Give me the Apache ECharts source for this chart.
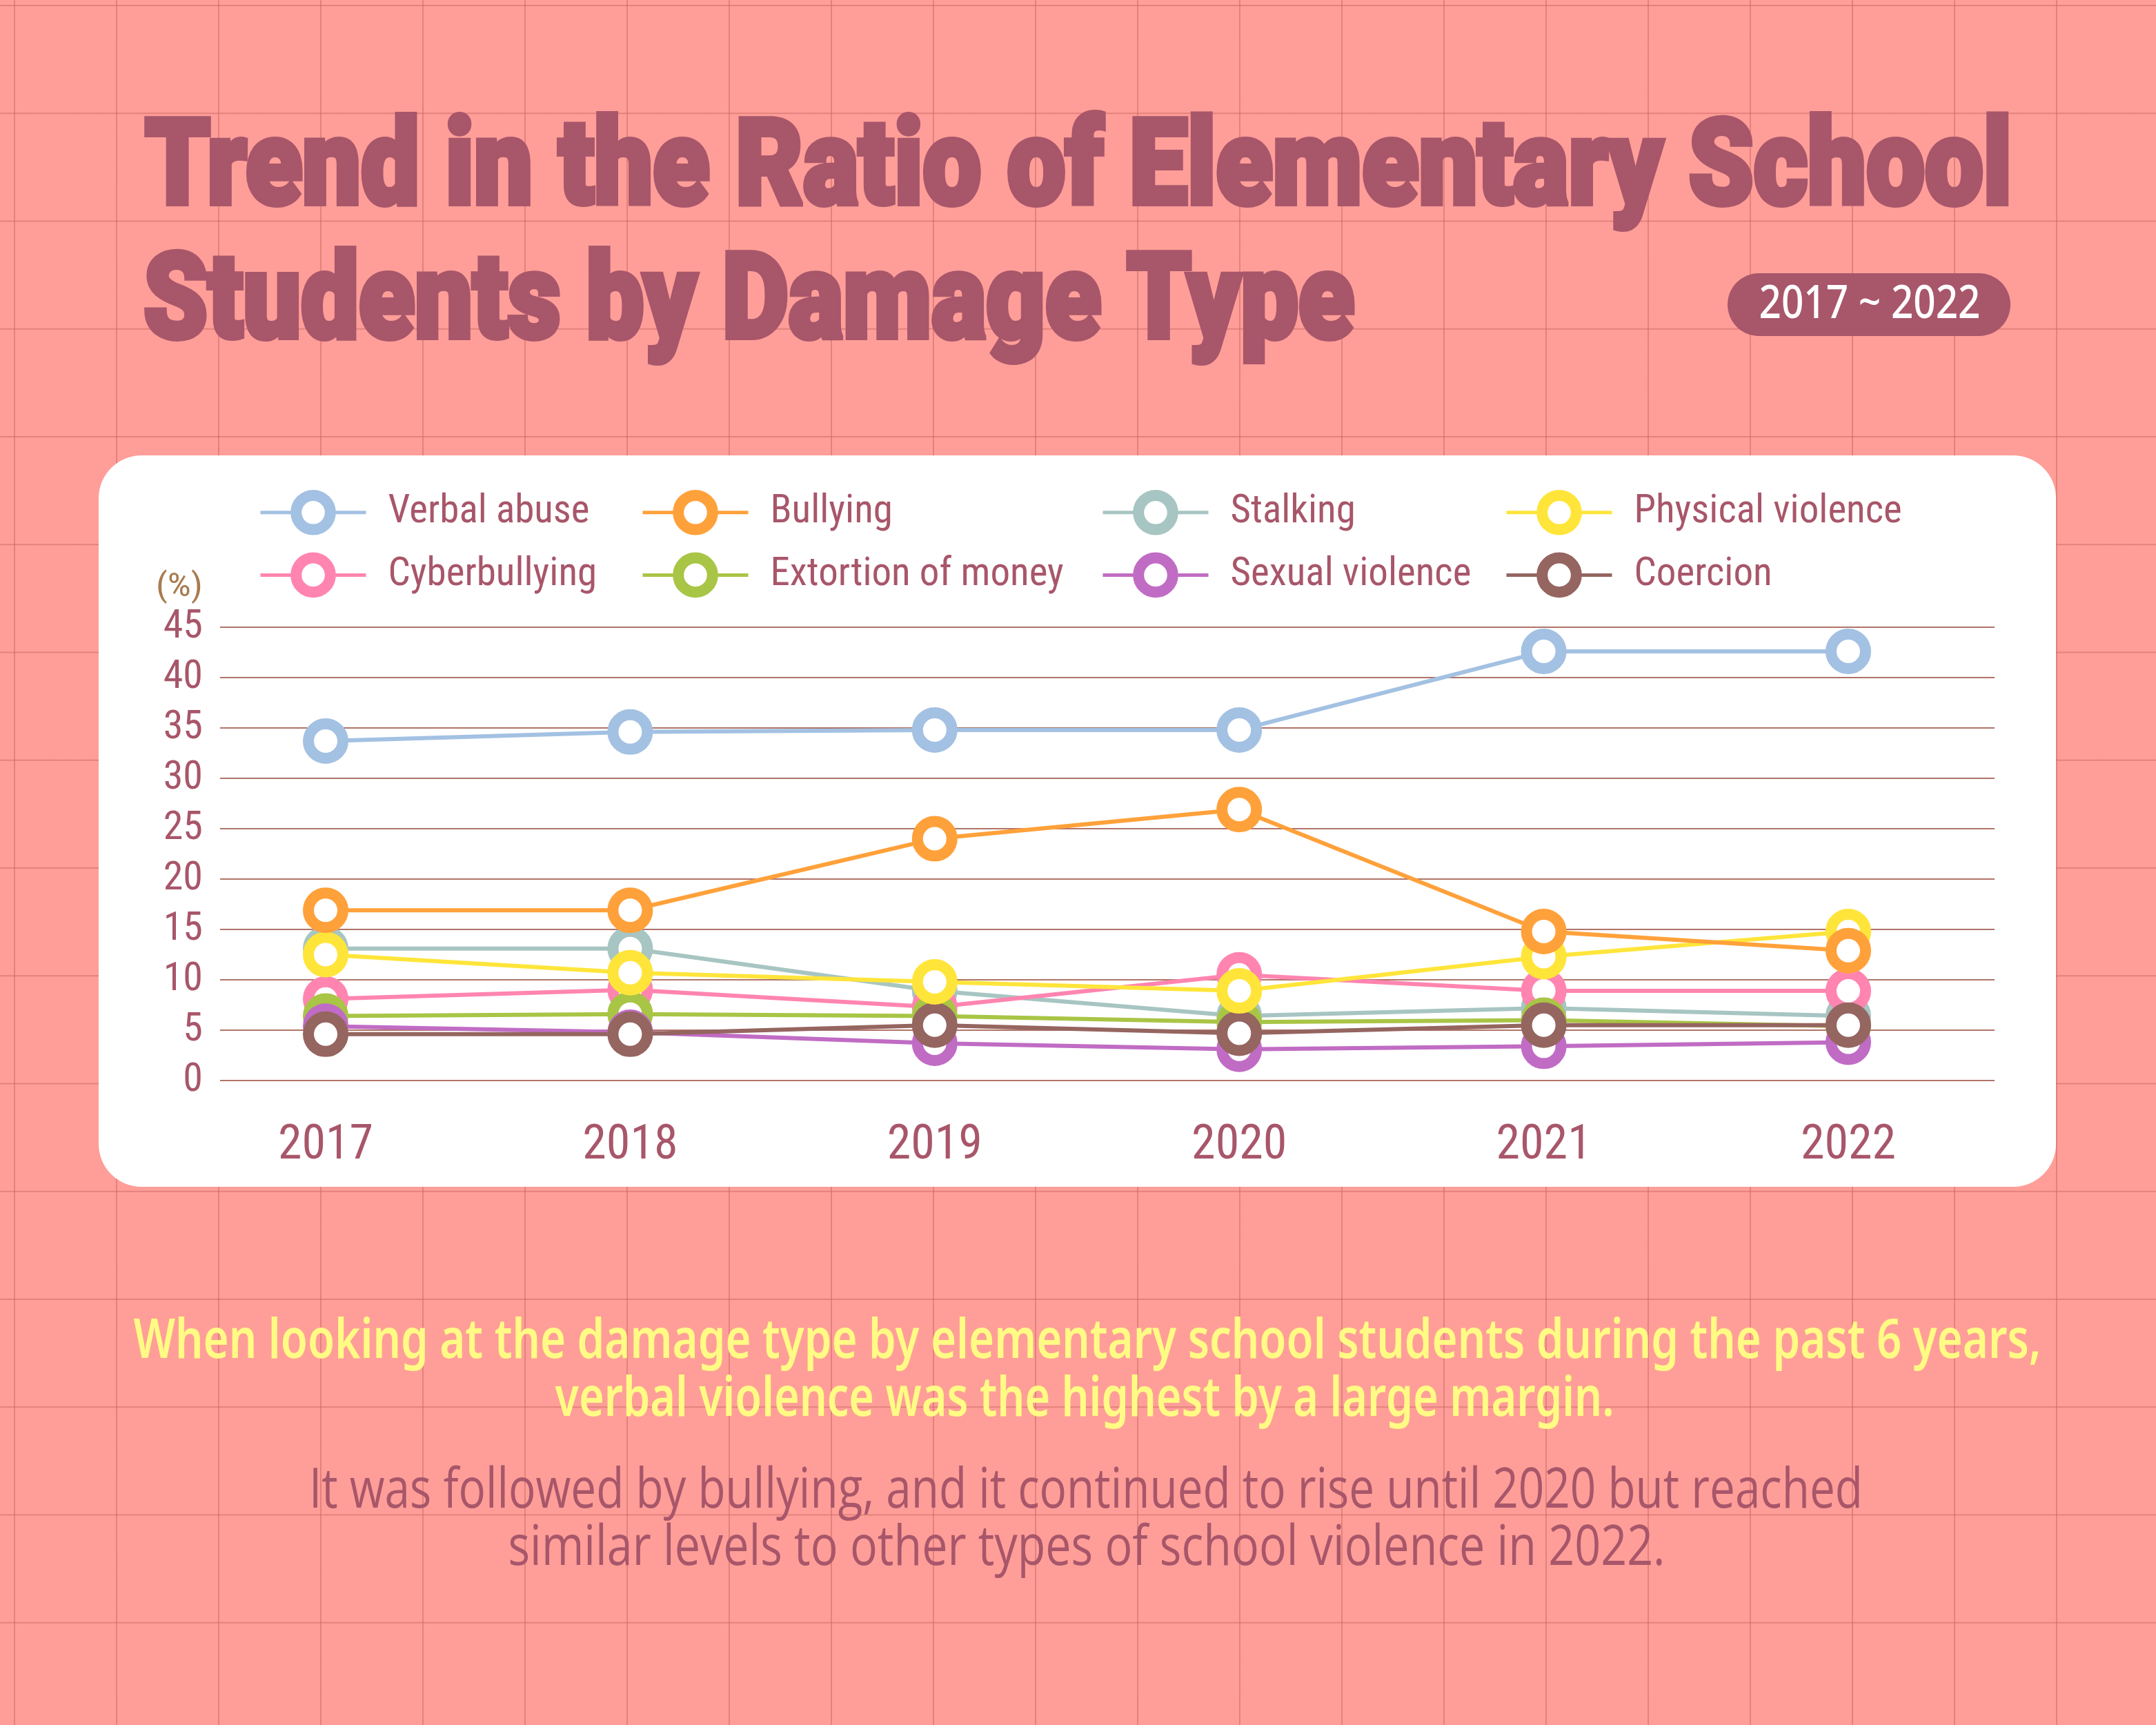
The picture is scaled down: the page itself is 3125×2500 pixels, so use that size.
<!DOCTYPE html>
<html>
<head>
<meta charset="utf-8">
<script src="https://cdn.jsdelivr.net/npm/echarts/dist/echarts.min.js"></script>
<style>
  html, body { margin: 0; padding: 0; }
  #main {
    width: 3125px; height: 2500px;
    background-color: #FF9E98;
    background-image:
      linear-gradient(to right, rgba(205, 105, 100, .55) 2px, transparent 2px),
      linear-gradient(to bottom, rgba(205, 105, 100, .55) 2px, transparent 2px);
    background-size: 148px 156.25px;
    background-position: 20px 7px;
  }
</style>
</head>
<body>
<div id="main"></div>
<script>
// 年份
const years = ['2017', '2018', '2019', '2020', '2021', '2022']
// 각 유형별 비율 (%)
const verbalAbuse = [33.7, 34.6, 34.8, 34.8, 42.6, 42.6]
const bullying = [16.9, 16.9, 24.0, 26.9, 14.8, 12.9]
const stalking = [13.1, 13.1, 8.9, 6.4, 7.2, 6.4]
const physicalViolence = [12.5, 10.7, 9.8, 8.9, 12.3, 14.8]
const cyberbullying = [8.1, 9.0, 7.3, 10.5, 8.9, 8.9]
const extortion = [6.4, 6.6, 6.4, 5.8, 6.0, 5.4]
const sexualViolence = [5.4, 4.8, 3.7, 3.1, 3.4, 3.8]
const coercion = [4.6, 4.6, 5.5, 4.7, 5.5, 5.5]
const yTicks = [0, 45, 5]   // min, max, interval

const names = ['Verbal abuse', 'Bullying', 'Stalking', 'Physical violence',
  'Cyberbullying', 'Extortion of money', 'Sexual violence', 'Coercion']
const values = [verbalAbuse, bullying, stalking, physicalViolence,
  cyberbullying, extortion, sexualViolence, coercion]
const colors = ['#A3C1E2', '#FFA13A', '#A7C5C2', '#FFE53A',
  '#FF85B0', '#A8C545', '#C06CC4', '#956560']
// draw order (bottom -> top)
const drawOrder = [0, 2, 4, 5, 6, 7, 3, 1]

const narrow = '"Liberation Sans Narrow", "Arial Narrow", "Roboto Condensed", Roboto, sans-serif'
const mauve = '#A8566A'

// measure text so it can be squeezed to the width seen in the picture
const ctx = document.createElement('canvas').getContext('2d')
function fitText(text, x, y, size, family, weight, color, width, align, stroke) {
  ctx.font = weight + ' ' + size + 'px ' + family
  const w = ctx.measureText(text).width
  let style = {
    text: text, fill: color, fontSize: size, fontFamily: family,
    fontWeight: weight, align: align || 'left', verticalAlign: 'middle'
  }
  if (stroke) {
    style.stroke = color
    style.lineWidth = stroke
    style.lineJoin = 'round'
  }
  return { type: 'text', x: x, y: y, z: 10, scaleX: width / w, style: style }
}

let myChart = echarts.init(document.getElementById('main'), null, { renderer: 'canvas' })

const legendLefts = [375, 929, 1596, 2181]
const legends = legendLefts.map(function(left, i) {
  return {
    data: [names[i], names[i + 4]],
    orient: 'vertical',
    left: left,
    top: 710,
    padding: 0,
    itemWidth: 153,
    itemHeight: 62,
    itemGap: 25,
    selectedMode: false,
    itemStyle: { borderWidth: 16 },
    lineStyle: { width: 5 },
    textStyle: {
      fontSize: 57, fontFamily: narrow, color: mauve,
      lineHeight: 62, padding: [0, 0, 0, 27]
    }
  }
})

const series = drawOrder.map(function(k) {
  return {
    name: names[k],
    type: 'line',
    xAxisIndex: 1,
    yAxisIndex: 1,
    data: values[k],
    symbol: 'circle',
    symbolSize: 50,
    color: colors[k],
    itemStyle: { color: '#fff', borderColor: colors[k], borderWidth: 16 },
    lineStyle: { color: colors[k], width: 6 },
    emphasis: { disabled: true }
  }
})

let option = {
  animation: false,
  backgroundColor: 'transparent',
  legend: legends,
  grid: [
    // 가로 눈금선용 넓은 그리드
    { left: 319, right: 234, top: 909, bottom: 934 },
    // 데이터용 그리드
    { left: 472, right: 446, top: 909, bottom: 934 }
  ],
  xAxis: [
    { type: 'category', gridIndex: 0, data: years, show: false },
    {
      type: 'category', gridIndex: 1, data: years, boundaryGap: false,
      axisLine: { show: false },
      axisTick: { show: false },
      axisLabel: { color: mauve, fontSize: 70, fontFamily: narrow, margin: 60 },
      splitLine: { show: false }
    }
  ],
  yAxis: [
    {
      type: 'value', gridIndex: 0,
      min: yTicks[0], max: yTicks[1], interval: yTicks[2],
      axisLine: { show: false },
      axisTick: { show: false },
      axisLabel: { color: mauve, fontSize: 58, fontFamily: narrow, margin: 25 },
      splitLine: { lineStyle: { color: '#B07468', width: 2 } }
    },
    {
      type: 'value', gridIndex: 1,
      min: yTicks[0], max: yTicks[1], interval: yTicks[2],
      show: false,
      splitLine: { show: false }
    }
  ],
  graphic: [
    {
      type: 'rect', z: -10,
      shape: { x: 143, y: 660, width: 2837, height: 1060, r: 62 },
      style: { fill: '#fff' }
    },
    fitText('Trend in the Ratio of Elementary School', 210, 252, 172, 'Roboto', 900, mauve, 2706, 'left', 8),
    fitText('Students by Damage Type', 208, 446, 172, 'Roboto', 900, mauve, 1755, 'left', 8),
    {
      type: 'rect', z: 5,
      shape: { x: 2504, y: 396, width: 410, height: 91, r: 45.5 },
      style: { fill: mauve }
    },
    fitText('2017 ~ 2022', 2710, 442, 68, '"Noto Sans"', 500, '#fff', 321, 'center'),
    fitText('(%)', 260, 852, 48, narrow, 400, '#A87B4F', 68, 'center'),
    fitText('When looking at the damage type by elementary school students during the past 6 years,',
      1576, 1945, 80, '"Noto Sans"', 600, '#FFFB84', 2765, 'center'),
    fitText('verbal violence was the highest by a large margin.',
      1572, 2029, 80, '"Noto Sans"', 600, '#FFFB84', 1535, 'center'),
    fitText('It was followed by bullying, and it continued to rise until 2020 but reached',
      1574, 2162, 80, '"Open Sans"', 400, mauve, 2252, 'center'),
    fitText('similar levels to other types of school violence in 2022.',
      1575, 2245, 80, '"Open Sans"', 400, mauve, 1677, 'center')
  ],
  series: series
}
myChart.setOption(option)
window.addEventListener('resize', function() {
  myChart.resize()
})
</script>
</body>
</html>
